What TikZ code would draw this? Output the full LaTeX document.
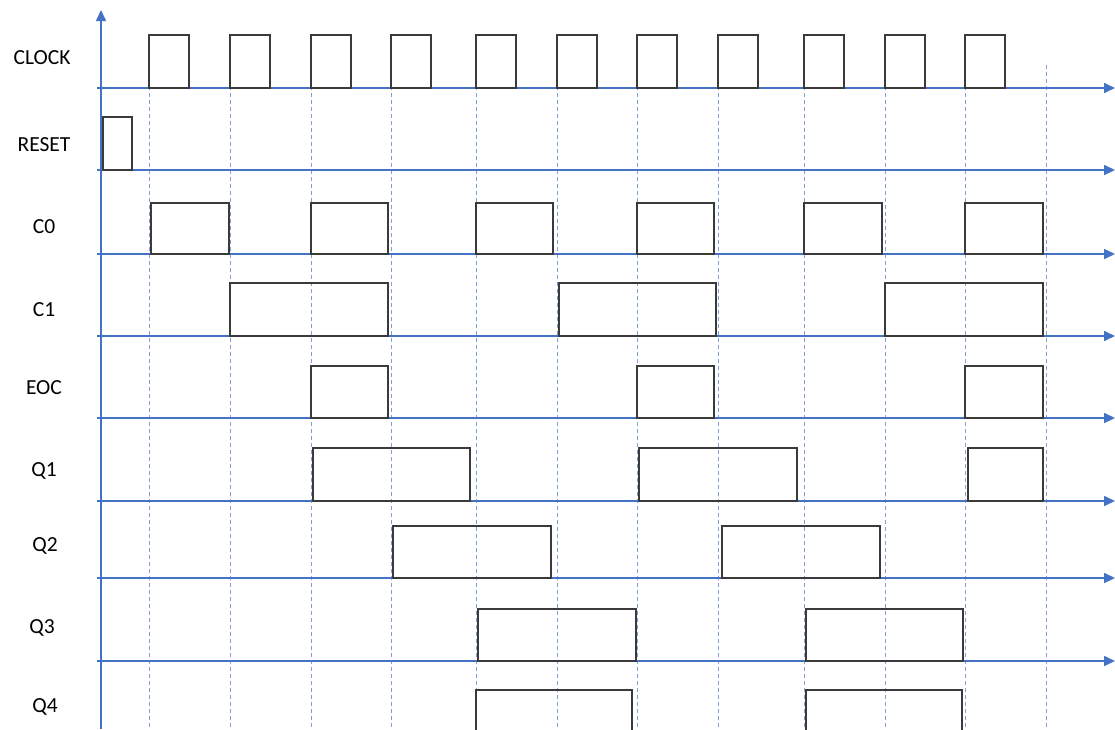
\documentclass[tikz,border=0pt]{standalone}
\usepackage{fontspec}
\setmainfont{Carlito}
\usetikzlibrary{arrows.meta}
\definecolor{axisblue}{HTML}{4472C4}
\definecolor{gridblue}{HTML}{7F9FDA}
\definecolor{sig}{HTML}{3A3A3A}
\begin{document}
\begin{tikzpicture}[x=1pt,y=-1pt,
  axis/.style={axisblue,line width=1.6pt,-{Triangle[length=11pt,width=10pt]}},
  gridline/.style={gridblue,line width=1pt,dash pattern=on 4pt off 3pt},
  pulse/.style={sig,line width=1.4pt},
  lbl/.style={font=\fontsize{21.5}{24}\selectfont,text=black}]
\useasboundingbox (0,0) rectangle (1115,729);
% dashed time grid
\foreach \x in {149,230,311,391,476,557,637,718,804,885,965,1046}
  \draw[gridline] (\x,65) -- (\x,729);
% labels
\node[lbl] (lclk) at (42,58) {CLOCK};
\node[lbl] (lrst) at (44,145) {RESET};
\node[lbl] (lc0) at (44,227) {C0};
\node[lbl] (lc1) at (44,310) {C1};
\node[lbl] (leoc) at (44,388) {EOC};
\node[lbl] (lq1) at (44,471) {Q1};
\node[lbl] (lq2) at (45,546) {Q2};
\node[lbl] (lq3) at (42,628) {Q3};
\node[lbl] (lq4) at (45,707) {Q4};
% axes
\draw[axis] (101,729) -- (101,10);
\foreach \y in {88,170,254,336,418,501,578,661}
  \draw[axis] (97,\y) -- (1115,\y);
% CLOCK
\foreach \x in {149,230,311,391,476,557,637,718,804,885,965}
  \draw[pulse] (\x,88) rectangle ++(40,-53);
% RESET
\draw[pulse] (103,170) rectangle (132,117);
% C0
\foreach \a/\b in {151/229,311/388,476/553,637/714,804/882,965/1043}
  \draw[pulse] (\a,254) rectangle (\b,203);
% C1
\foreach \a/\b in {230/388,559/716,885/1043}
  \draw[pulse] (\a,336) rectangle (\b,283);
% EOC
\foreach \a/\b in {311/388,637/714,965/1043}
  \draw[pulse] (\a,418) rectangle (\b,366);
% Q1
\foreach \a/\b in {313/470,639/797,968/1043}
  \draw[pulse] (\a,501) rectangle (\b,448);
% Q2
\foreach \a/\b in {393/551,722/880}
  \draw[pulse] (\a,578) rectangle (\b,526);
% Q3
\foreach \a/\b in {478/636,806/963}
  \draw[pulse] (\a,661) rectangle (\b,609);
% Q4
\foreach \a/\b in {476/632,806/962}
  \draw[pulse] (\a,735) -- (\a,690) -- (\b,690) -- (\b,735);
\end{tikzpicture}
\end{document}
